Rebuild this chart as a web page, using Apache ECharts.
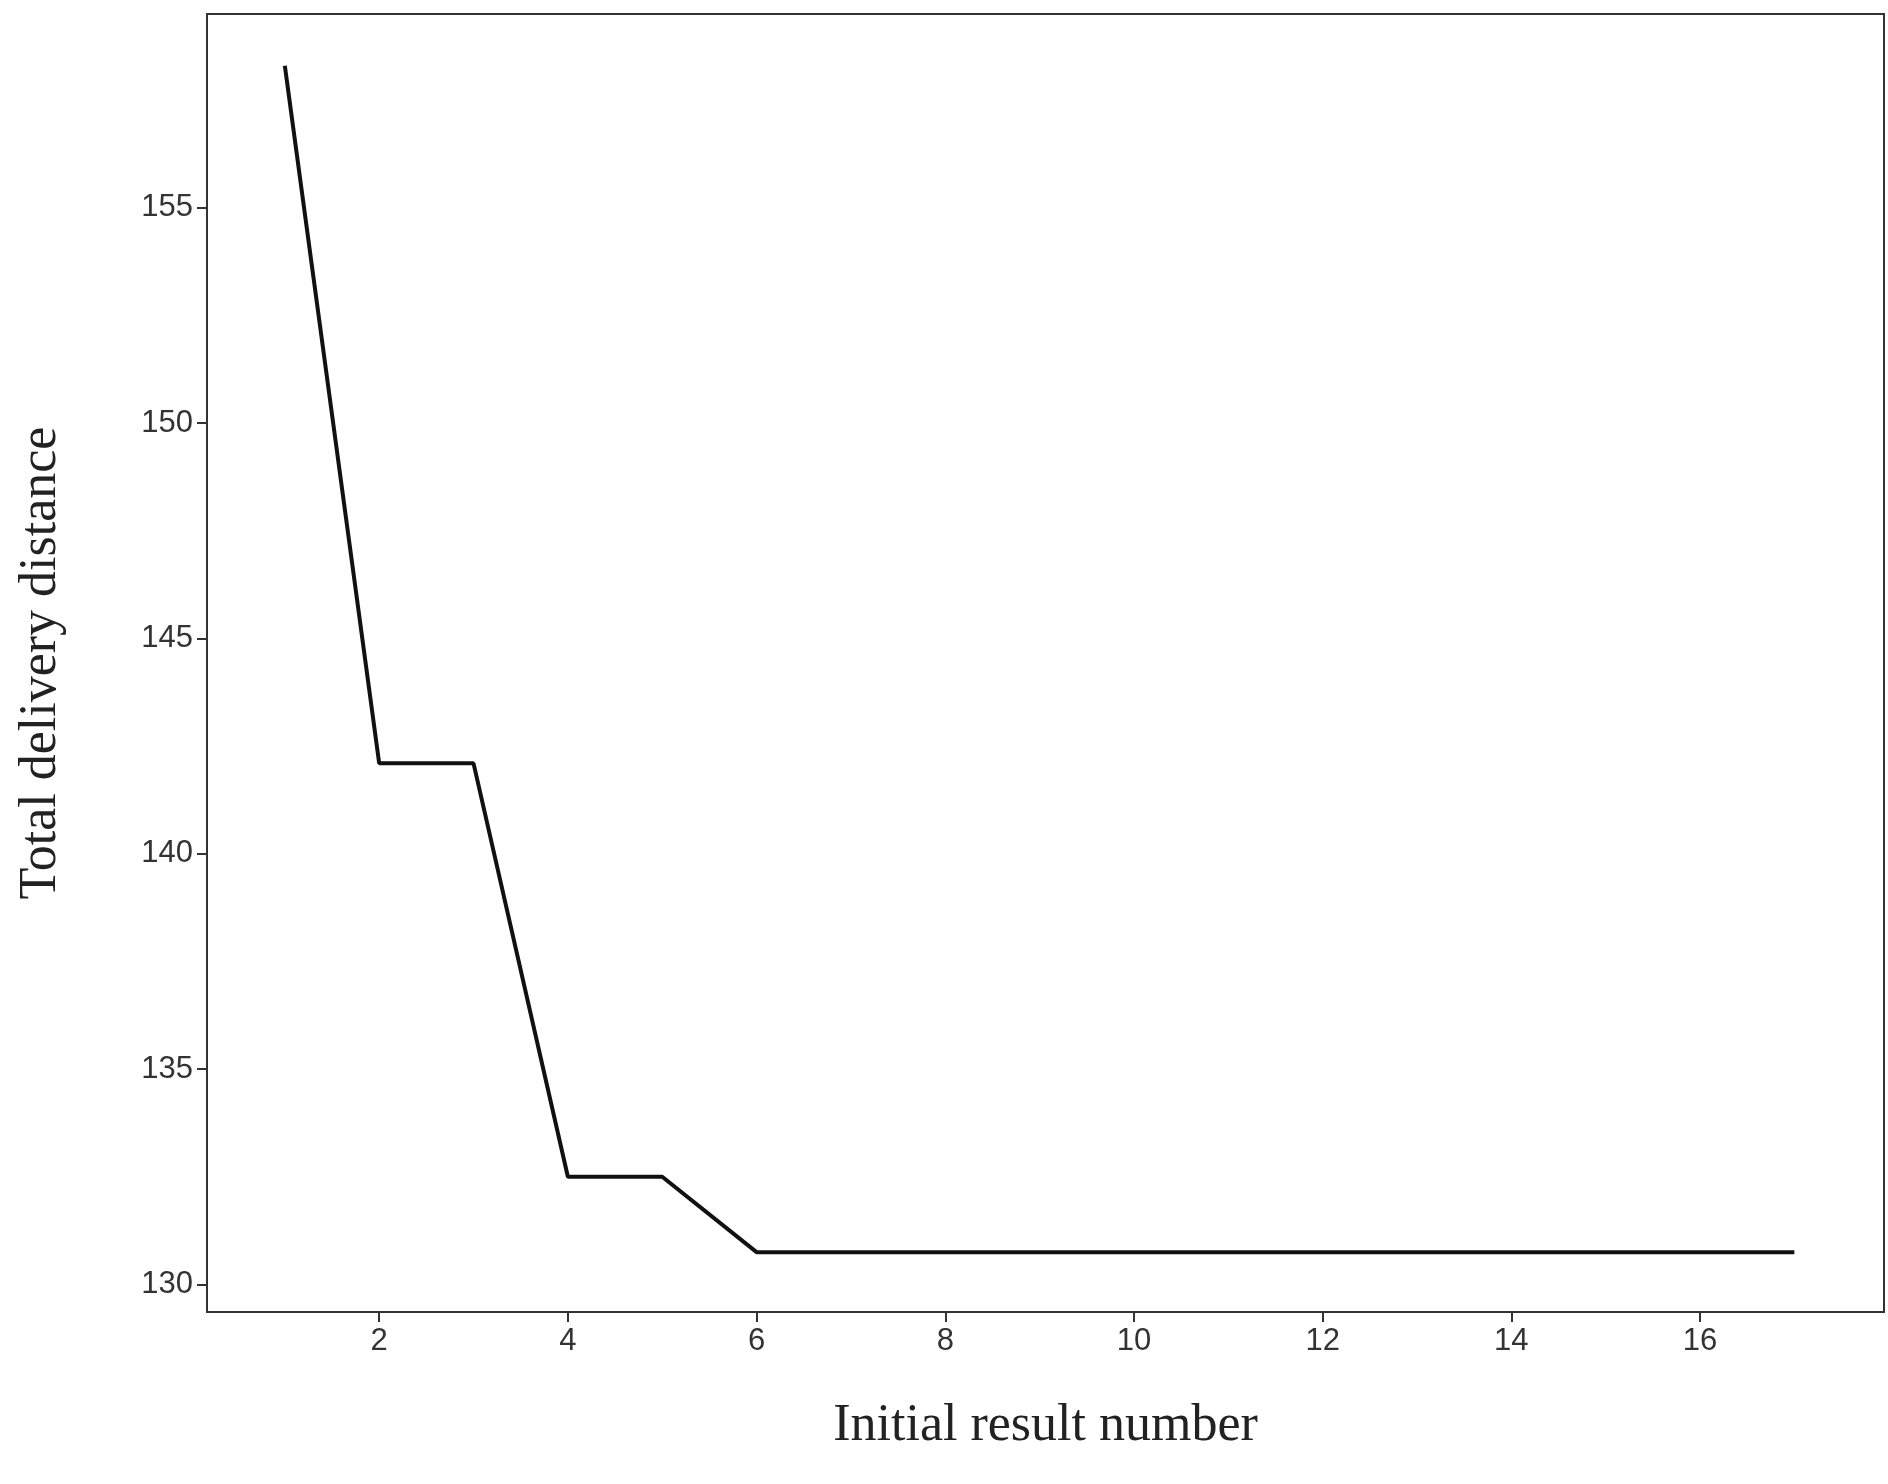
<!DOCTYPE html>
<html><head><meta charset="utf-8">
<script src="https://cdn.jsdelivr.net/npm/echarts@6/dist/echarts.min.js"></script>
<style>html,body{margin:0;padding:0;background:#fff}#c{width:1888px;height:1484px}</style>
</head><body><div id="c"></div>
<script>
const xValues = [1,2,3,4,5,6,7,8,9,10,11,12,13,14,15,16,17];
const yValues = [158.3,142.1,142.1,132.5,132.5,130.75,130.75,130.75,130.75,130.75,130.75,130.75,130.75,130.75,130.75,130.75,130.75];
const xTicks = [2,4,6,8,10,12,14,16];
const yTicks = [130,135,140,145,150,155];
const chart = echarts.init(document.getElementById('c'));
chart.setOption({
  animation:false,
  grid:{left:207,right:4,top:14,bottom:172,show:true,borderColor:'#333',borderWidth:2},
  xAxis:{type:'value',min:0.175,max:17.95,
    name:'Initial result number',nameLocation:'middle',nameGap:88,
    nameTextStyle:{fontFamily:'Liberation Serif',fontSize:52,color:'#222'},
    axisLine:{show:true,lineStyle:{color:'#333',width:2}},
    axisTick:{show:true,length:10,customValues:xTicks,lineStyle:{color:'#333',width:2}},
    axisLabel:{customValues:xTicks,fontFamily:'Liberation Sans',fontSize:31,color:'#333',margin:14},
    splitLine:{show:false}},
  yAxis:{type:'value',min:129.36,max:159.5,
    name:'Total delivery distance',nameLocation:'middle',nameGap:140,
    nameTextStyle:{fontFamily:'Liberation Serif',fontSize:52,color:'#222'},
    axisLine:{show:true,lineStyle:{color:'#333',width:2}},
    axisTick:{show:true,length:10,customValues:yTicks,lineStyle:{color:'#333',width:2}},
    axisLabel:{customValues:yTicks,fontFamily:'Liberation Sans',fontSize:31,color:'#333',margin:14},
    splitLine:{show:false}},
  series:[{type:'line',data:xValues.map((x,i)=>[x,yValues[i]]),showSymbol:false,
    lineStyle:{color:'#111',width:4}}]
});
</script></body></html>
